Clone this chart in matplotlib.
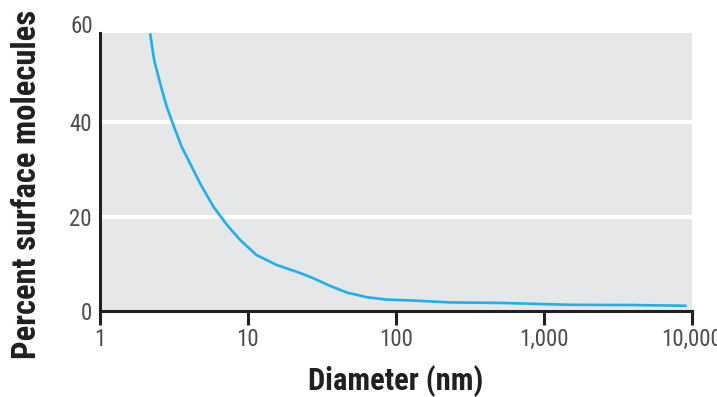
import matplotlib.pyplot as plt
from matplotlib import font_manager
from matplotlib.transforms import blended_transform_factory

# Values.
diameter_nm = [2.18, 2.32, 2.48, 2.64, 2.82, 3.13, 3.56, 4.06, 4.74, 5.83, 7.18,
               8.83, 11.4, 15.6, 22.5, 27.6, 35.8, 46.4, 63.4, 86.5, 131, 232,
               505, 1500, 4000, 9200]
percent_surface = [58.6, 53.0, 49.5, 46.3, 43.2, 39.3, 34.7, 31.2, 27.0, 22.1,
                   18.3, 15.1, 11.9, 9.8, 8.1, 7.0, 5.4, 4.0, 3.0, 2.5, 2.3,
                   1.9, 1.8, 1.4, 1.35, 1.2]
x_ticks = [1, 10, 100, 1000, 10000]
x_tick_labels = ["1", "10", "100", "1,000", "10,000"]
y_ticks = [0, 20, 40]
y_top_label = 60

_INK = "#231f20"
_TICK_INK = "#4d4d4f"
_PANEL = "#e6e7e8"
_LINE = "#1fb0ec"

_names = {f.name for f in font_manager.fontManager.ttflist}
_CANDIDATES = ["Roboto Condensed", "Archivo Narrow", "Asap Condensed",
               "Sofia Sans Condensed"]
_NARROW = [n for n in _CANDIDATES if n in _names][:1] + ["DejaVu Sans"]

fig = plt.figure(figsize=(7.17, 3.97), dpi=100)
ax = fig.add_axes([0.1395, 0.2155, 0.8255, 0.7005])
ax.set_facecolor(_PANEL)
ax.set_xscale("log")
ax.set_xlim(1, 10000)
ax.set_ylim(0, 58.6)

for y in (20, 40):
    ax.axhline(y, color="white", linewidth=3, zorder=1)

ax.plot(diameter_nm, percent_surface, color=_LINE, linewidth=1.9, zorder=3,
        clip_on=False, solid_capstyle="butt")

for side in ("top", "right"):
    ax.spines[side].set_visible(False)
for side in ("left", "bottom"):
    ax.spines[side].set_color(_INK)
    ax.spines[side].set_linewidth(2.2)

ax.set_xticks(x_ticks)
ax.set_xticklabels(x_tick_labels)
ax.minorticks_off()
ax.set_yticks(y_ticks)
ax.tick_params(axis="x", direction="out", length=10, width=2.2, color=_INK,
               pad=2, labelsize=16.5, labelcolor=_TICK_INK)
ax.tick_params(axis="y", length=0, pad=6, labelsize=16.5, labelcolor=_TICK_INK)
for label in ax.get_xticklabels() + ax.get_yticklabels():
    label.set_family(_NARROW)

trans = blended_transform_factory(ax.transAxes, ax.transData)
ax.text(-0.0115, y_top_label, str(y_top_label), transform=trans, ha="right",
        va="center", fontsize=16.5, color=_TICK_INK, family=_NARROW)

ax.set_xlabel("Diameter (nm)", fontsize=22, fontweight="bold", color=_INK,
              family=_NARROW, labelpad=10)
fig.text(0.038, 0.535, "Percent surface molecules", rotation=90, ha="center",
         va="center", fontsize=23.5, fontweight="bold", color=_INK,
         family=_NARROW)

fig.savefig("out.png", dpi=100, facecolor="white")
